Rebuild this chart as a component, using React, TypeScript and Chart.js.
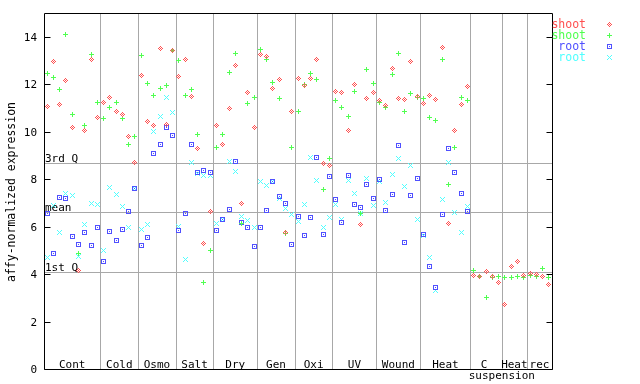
import React, { useEffect, useRef } from 'react';
import { Chart, registerables } from 'chart.js';

Chart.register(...registerables);

// ---- data ----
const categories = ['Cont', 'Cold', 'Osmo', 'Salt', 'Dry', 'Gen', 'Oxi', 'UV', 'Wound', 'Heat', 'C\nsuspension', 'Heat', 'rec'];
const sampleCounts = [9, 6, 6, 6, 7, 6, 6, 7, 7, 8, 5, 4, 4];
const yTicks = [0, 2, 4, 6, 8, 10, 12, 14];
const refLabels = ['3rd Q', 'mean', '1st Q'];
const refValues = [8.69, 6.61, 4.07];
const seriesNames = ['shoot', 'shoot', 'root', 'root'];
const seriesColors = ['#ff5050', '#50ff50', '#5050ff', '#50ffff'];

const shootA = [
  11.04, 12.97, 11.13, 12.15, 10.17, 4.14, 10.03, 13.03, 10.59, // Cont
  11.21, 11.42, 10.87, 10.72, 9.78, 8.72, // Cold
  12.35, 10.41, 10.28, 13.49, 10.30, 13.42, // Osmo
  12.31, 13.03, 11.47, 9.27, 5.30, 6.65, // Salt
  10.28, 9.48, 10.96, 12.78, 6.99, 11.64, 10.16, // Dry
  13.24, 13.16, 11.80, 12.18, 5.76, 10.83, // Gen
  12.23, 11.93, 12.23, 13.03, 8.64, 8.59, // Oxi
  11.68, 11.64, 10.07, 11.97, 6.10, 11.38, 11.64, // UV
  11.30, 11.09, 12.65, 11.38, 11.34, 12.94, 11.47, // Wound
  11.17, 11.51, 11.34, 13.54, 6.14, 10.03, 11.13, 11.89, // Heat
  3.95, 3.90, 4.11, 3.90, 3.65, // C suspension
  2.72, 4.33, 4.51, 3.95, // Heat
  4.03, 3.99, 3.90, 3.57, // rec
];
const shootB = [
  12.45, 12.27, 11.77, 14.09, 10.71, 4.85, 10.24, 13.25, 11.21,
  10.54, 11.00, 11.21, 10.55, 9.44, 9.79,
  13.20, 12.02, 11.51, 11.80, 11.94, 13.42,
  12.99, 11.51, 11.77, 9.86, 3.65, 5.00,
  9.35, 9.90, 12.48, 13.28, 6.11, 11.17, 11.42,
  13.45, 13.03, 12.06, 11.38, 5.72, 9.35,
  10.87, 11.97, 12.44, 12.18, 7.58, 8.89,
  11.30, 11.00, 10.62, 11.68, 6.57, 12.61, 12.02,
  11.25, 11.00, 12.40, 13.28, 10.83, 11.59, 11.42,
  11.38, 10.58, 10.45, 13.03, 7.79, 9.35, 11.42, 11.30,
  4.17, 3.90, 3.02, 3.86, 3.90,
  3.86, 3.86, 3.90, 3.86,
  3.95, 3.90, 4.22, 3.86,
];
const rootA = [
  6.57, 4.85, 7.24, 7.17, 5.59, 5.26, 5.76, 5.21, 5.97,
  4.54, 5.80, 5.42, 5.89, 6.65, 7.59,
  5.21, 5.55, 9.10, 9.44, 10.16, 9.82,
  5.85, 6.57, 9.48, 8.30, 8.38, 8.30,
  5.85, 6.29, 6.73, 8.76, 6.19, 5.97, 5.17,
  5.97, 6.69, 7.92, 7.28, 6.99, 5.26,
  6.44, 5.64, 6.40, 8.93, 5.68, 8.09,
  7.16, 6.19, 8.17, 6.95, 6.82, 7.79, 7.20,
  7.97, 6.69, 7.37, 9.40, 5.34, 7.33, 8.04,
  5.68, 4.33, 3.44, 6.52, 9.27, 8.26, 7.41, 6.65,
  null, null, null, null, null,
  null, null, null, null,
  null, null, null, null,
];
const rootB = [
  4.71, 6.87, 5.76, 7.41, 7.30, 4.73, 6.10, 6.99, 6.95,
  5.00, 7.66, 7.37, 6.86, 5.97, 7.62,
  5.89, 6.10, 9.99, 10.62, 11.42, 10.79,
  6.02, 4.62, 8.72, 8.23, 8.14, 8.14,
  6.14, 6.31, 8.76, 8.34, 6.44, 6.27, 5.97,
  7.92, 7.75, 7.89, 7.17, 6.75, 6.52,
  6.23, 6.95, 8.93, 7.95, 5.97, 6.40,
  6.95, 6.31, 7.95, 7.41, 6.57, 8.04, 6.90,
  7.91, 7.03, 8.21, 8.89, 7.71, 8.59, 6.31,
  5.64, 4.71, 3.31, 7.16, 8.68, 6.61, 5.76, 6.86,
  null, null, null, null, null,
  null, null, null, null,
  null, null, null, null,
];

const FONT = "'DejaVu Sans Mono', monospace";

function makeMarker(kind: string, color: string): HTMLCanvasElement {
  const c = document.createElement('canvas');
  c.width = 5;
  c.height = 5;
  const g = c.getContext('2d')!;
  g.fillStyle = color;
  for (let dy = -2; dy <= 2; dy++) {
    for (let dx = -2; dx <= 2; dx++) {
      const ax = Math.abs(dx), ay = Math.abs(dy);
      let on = false;
      if (kind === 'diamond') on = ax + ay === 2 || (ax === 0 && ay === 0);
      else if (kind === 'plus') on = dx === 0 || dy === 0;
      else if (kind === 'square') on = Math.max(ax, ay) === 2 || (ax === 0 && ay === 0);
      else if (kind === 'x') on = ax === ay;
      if (on) g.fillRect(dx + 2, dy + 2, 1, 1);
    }
  }
  return c;
}

export default function App() {
  const ref = useRef<HTMLCanvasElement | null>(null);

  useEffect(() => {
    document.body.style.margin = '0';
    const canvas = ref.current!;
    const markerKinds = ['diamond', 'plus', 'square', 'x'];
    const markers = markerKinds.map((k, i) => makeMarker(k, seriesColors[i]));
    const allSeries = [shootA, shootB, rootA, rootB];
    const total = sampleCounts.reduce((a, b) => a + b, 0);
    const bounds: number[] = [0];
    sampleCounts.forEach((n) => bounds.push(bounds[bounds.length - 1] + n));

    const datasets = allSeries.map((vals, si) => ({
      label: seriesNames[si],
      data: vals
        .map((v, i) => (v === null ? null : { x: i + 0.5, y: v }))
        .filter((p) => p !== null) as { x: number; y: number }[],
      pointStyle: markers[si],
      pointRadius: 3,
      borderColor: seriesColors[si],
      backgroundColor: seriesColors[si],
      showLine: false,
    }));

    const decor = {
      id: 'decor',
      beforeDatasetsDraw(chart: any) {
        const ctx = chart.ctx;
        const xs = chart.scales.x;
        const ys = chart.scales.y;
        const { left, right, top, bottom } = chart.chartArea;
        ctx.save();
        ctx.strokeStyle = '#a8a8a8';
        ctx.lineWidth = 1;
        // vertical separators
        for (let i = 1; i < bounds.length - 1; i++) {
          const px = Math.round(xs.getPixelForValue(bounds[i])) + 0.5;
          ctx.beginPath();
          ctx.moveTo(px, top);
          ctx.lineTo(px, bottom);
          ctx.stroke();
        }
        // reference lines
        ctx.fillStyle = '#000';
        ctx.font = `11px ${FONT}`;
        ctx.textAlign = 'left';
        ctx.textBaseline = 'alphabetic';
        refValues.forEach((v, i) => {
          const py = Math.round(ys.getPixelForValue(v)) + 0.5;
          ctx.beginPath();
          ctx.moveTo(left, py);
          ctx.lineTo(right, py);
          ctx.stroke();
          ctx.fillText(refLabels[i], left + 1, py - 1.5);
        });
        ctx.restore();
        ctx.imageSmoothingEnabled = false;
      },
      afterDatasetsDraw(chart: any) {
        const ctx = chart.ctx;
        const xs = chart.scales.x;
        const ys = chart.scales.y;
        const { left, right, top, bottom } = chart.chartArea;
        ctx.save();
        ctx.imageSmoothingEnabled = false;
        // frame
        ctx.strokeStyle = '#000';
        ctx.lineWidth = 1;
        const L = Math.round(left) + 0.5, R = Math.round(right) + 0.5;
        const T = Math.round(top) + 0.5, B = Math.round(bottom) + 0.5;
        ctx.beginPath();
        ctx.moveTo(L, T);
        ctx.lineTo(R, T);
        ctx.lineTo(R, B);
        ctx.lineTo(L, B);
        ctx.closePath();
        ctx.stroke();
        // y ticks (inward, both sides) and labels
        ctx.fillStyle = '#000';
        ctx.font = `11px ${FONT}`;
        ctx.textAlign = 'right';
        ctx.textBaseline = 'middle';
        yTicks.forEach((v) => {
          const py = Math.round(ys.getPixelForValue(v)) + 0.5;
          ctx.beginPath();
          ctx.moveTo(L, py);
          ctx.lineTo(L + 6, py);
          ctx.moveTo(R, py);
          ctx.lineTo(R - 6, py);
          ctx.stroke();
          ctx.fillText(String(v), left - 7, py + 0.5);
        });
        // category labels
        ctx.textAlign = 'center';
        ctx.textBaseline = 'alphabetic';
        categories.forEach((c, i) => {
          const cx = (xs.getPixelForValue(bounds[i]) + xs.getPixelForValue(bounds[i + 1])) / 2;
          const lines = c.split('\n');
          if (lines.length === 1) {
            ctx.fillText(lines[0], cx, bottom - 1);
          } else {
            ctx.fillText(lines[0], cx - 2, bottom - 1);
            ctx.fillText(lines[1], xs.getPixelForValue(bounds[i + 1]), bottom + 10);
          }
        });
        // y title
        ctx.save();
        ctx.translate(12, (top + bottom) / 2 + 1);
        ctx.rotate(-Math.PI / 2);
        ctx.font = `11.5px ${FONT}`;
        ctx.textAlign = 'center';
        ctx.textBaseline = 'middle';
        ctx.fillText('affy-normalized expression', 0, 0);
        ctx.restore();
        // legend
        ctx.font = `11.5px ${FONT}`;
        ctx.textAlign = 'right';
        ctx.textBaseline = 'alphabetic';
        seriesNames.forEach((n, i) => {
          ctx.fillStyle = seriesColors[i];
          ctx.fillText(n, 586, 27.5 + i * 11);
          const m = markers[i];
          ctx.drawImage(m, 609 - 2, 22 + i * 11, m.width, m.height);
        });
        ctx.restore();
      },
    };

    const chart = new Chart(canvas, {
      type: 'scatter',
      data: { datasets },
      options: {
        animation: false,
        responsive: false,
        maintainAspectRatio: false,
        layout: { padding: { left: 44, right: 88, top: 13, bottom: 15 } },
        plugins: { legend: { display: false }, tooltip: { enabled: false } },
        scales: {
          x: { type: 'linear', min: 0, max: total, display: false },
          y: { type: 'linear', min: 0, max: 15, display: false },
        },
      },
      plugins: [decor],
    } as any);

    return () => chart.destroy();
  }, []);

  return (
    <div style={{ width: 640, height: 384, position: 'relative', background: '#fff' }}>
      <canvas ref={ref} width={640} height={384} style={{ display: 'block' }} />
    </div>
  );
}
